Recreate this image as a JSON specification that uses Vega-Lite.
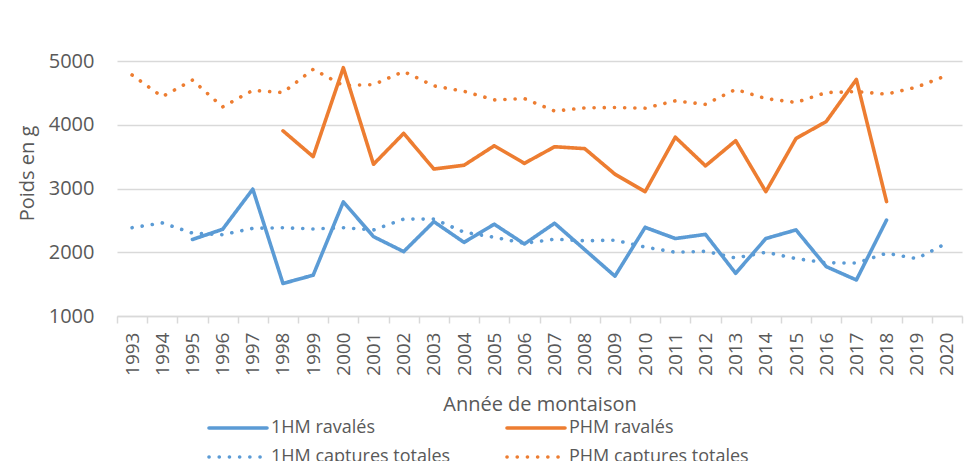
{
  "$schema": "https://vega.github.io/schema/vega-lite/v6.json",
  "width": 845,
  "height": 255,
  "autosize": {"type": "none"},
  "padding": {"left": 117, "top": 61, "right": 17, "bottom": 145},
  "background": "white",
  "config": {
    "view": {"stroke": null},
    "font": "Open Sans"
  },
  "datasets": {
    "raw": [
      {"s": "1HM ravalés", "y": "1995", "v": 2200},
      {"s": "1HM ravalés", "y": "1996", "v": 2360},
      {"s": "1HM ravalés", "y": "1997", "v": 2990},
      {"s": "1HM ravalés", "y": "1998", "v": 1510},
      {"s": "1HM ravalés", "y": "1999", "v": 1640},
      {"s": "1HM ravalés", "y": "2000", "v": 2790},
      {"s": "1HM ravalés", "y": "2001", "v": 2245},
      {"s": "1HM ravalés", "y": "2002", "v": 2010},
      {"s": "1HM ravalés", "y": "2003", "v": 2480},
      {"s": "1HM ravalés", "y": "2004", "v": 2155},
      {"s": "1HM ravalés", "y": "2005", "v": 2440},
      {"s": "1HM ravalés", "y": "2006", "v": 2130},
      {"s": "1HM ravalés", "y": "2007", "v": 2455},
      {"s": "1HM ravalés", "y": "2008", "v": 2040},
      {"s": "1HM ravalés", "y": "2009", "v": 1625},
      {"s": "1HM ravalés", "y": "2010", "v": 2390},
      {"s": "1HM ravalés", "y": "2011", "v": 2215},
      {"s": "1HM ravalés", "y": "2012", "v": 2280},
      {"s": "1HM ravalés", "y": "2013", "v": 1670},
      {"s": "1HM ravalés", "y": "2014", "v": 2215},
      {"s": "1HM ravalés", "y": "2015", "v": 2350},
      {"s": "1HM ravalés", "y": "2016", "v": 1775},
      {"s": "1HM ravalés", "y": "2017", "v": 1565},
      {"s": "1HM ravalés", "y": "2018", "v": 2505},
      {"s": "PHM ravalés", "y": "1998", "v": 3905},
      {"s": "PHM ravalés", "y": "1999", "v": 3500},
      {"s": "PHM ravalés", "y": "2000", "v": 4895},
      {"s": "PHM ravalés", "y": "2001", "v": 3380},
      {"s": "PHM ravalés", "y": "2002", "v": 3865},
      {"s": "PHM ravalés", "y": "2003", "v": 3305},
      {"s": "PHM ravalés", "y": "2004", "v": 3365},
      {"s": "PHM ravalés", "y": "2005", "v": 3670},
      {"s": "PHM ravalés", "y": "2006", "v": 3395},
      {"s": "PHM ravalés", "y": "2007", "v": 3655},
      {"s": "PHM ravalés", "y": "2008", "v": 3625},
      {"s": "PHM ravalés", "y": "2009", "v": 3225},
      {"s": "PHM ravalés", "y": "2010", "v": 2950},
      {"s": "PHM ravalés", "y": "2011", "v": 3805},
      {"s": "PHM ravalés", "y": "2012", "v": 3355},
      {"s": "PHM ravalés", "y": "2013", "v": 3750},
      {"s": "PHM ravalés", "y": "2014", "v": 2950},
      {"s": "PHM ravalés", "y": "2015", "v": 3785},
      {"s": "PHM ravalés", "y": "2016", "v": 4050},
      {"s": "PHM ravalés", "y": "2017", "v": 4710},
      {"s": "PHM ravalés", "y": "2018", "v": 2795},
      {"s": "1HM captures totales", "y": "1993", "v": 2385},
      {"s": "1HM captures totales", "y": "1994", "v": 2460},
      {"s": "1HM captures totales", "y": "1995", "v": 2300},
      {"s": "1HM captures totales", "y": "1996", "v": 2275},
      {"s": "1HM captures totales", "y": "1997", "v": 2375},
      {"s": "1HM captures totales", "y": "1998", "v": 2385},
      {"s": "1HM captures totales", "y": "1999", "v": 2365},
      {"s": "1HM captures totales", "y": "2000", "v": 2385},
      {"s": "1HM captures totales", "y": "2001", "v": 2350},
      {"s": "1HM captures totales", "y": "2002", "v": 2520},
      {"s": "1HM captures totales", "y": "2003", "v": 2520},
      {"s": "1HM captures totales", "y": "2004", "v": 2315},
      {"s": "1HM captures totales", "y": "2005", "v": 2235},
      {"s": "1HM captures totales", "y": "2006", "v": 2140},
      {"s": "1HM captures totales", "y": "2007", "v": 2205},
      {"s": "1HM captures totales", "y": "2008", "v": 2180},
      {"s": "1HM captures totales", "y": "2009", "v": 2190},
      {"s": "1HM captures totales", "y": "2010", "v": 2080},
      {"s": "1HM captures totales", "y": "2011", "v": 2000},
      {"s": "1HM captures totales", "y": "2012", "v": 2015},
      {"s": "1HM captures totales", "y": "2013", "v": 1910},
      {"s": "1HM captures totales", "y": "2014", "v": 2000},
      {"s": "1HM captures totales", "y": "2015", "v": 1900},
      {"s": "1HM captures totales", "y": "2016", "v": 1835},
      {"s": "1HM captures totales", "y": "2017", "v": 1830},
      {"s": "1HM captures totales", "y": "2018", "v": 1985},
      {"s": "1HM captures totales", "y": "2019", "v": 1900},
      {"s": "1HM captures totales", "y": "2020", "v": 2145},
      {"s": "PHM captures totales", "y": "1993", "v": 4780},
      {"s": "PHM captures totales", "y": "1994", "v": 4440},
      {"s": "PHM captures totales", "y": "1995", "v": 4700},
      {"s": "PHM captures totales", "y": "1996", "v": 4280},
      {"s": "PHM captures totales", "y": "1997", "v": 4540},
      {"s": "PHM captures totales", "y": "1998", "v": 4505},
      {"s": "PHM captures totales", "y": "1999", "v": 4870},
      {"s": "PHM captures totales", "y": "2000", "v": 4615},
      {"s": "PHM captures totales", "y": "2001", "v": 4630},
      {"s": "PHM captures totales", "y": "2002", "v": 4835},
      {"s": "PHM captures totales", "y": "2003", "v": 4610},
      {"s": "PHM captures totales", "y": "2004", "v": 4525},
      {"s": "PHM captures totales", "y": "2005", "v": 4390},
      {"s": "PHM captures totales", "y": "2006", "v": 4410},
      {"s": "PHM captures totales", "y": "2007", "v": 4215},
      {"s": "PHM captures totales", "y": "2008", "v": 4265},
      {"s": "PHM captures totales", "y": "2009", "v": 4270},
      {"s": "PHM captures totales", "y": "2010", "v": 4260},
      {"s": "PHM captures totales", "y": "2011", "v": 4375},
      {"s": "PHM captures totales", "y": "2012", "v": 4320},
      {"s": "PHM captures totales", "y": "2013", "v": 4555},
      {"s": "PHM captures totales", "y": "2014", "v": 4410},
      {"s": "PHM captures totales", "y": "2015", "v": 4350},
      {"s": "PHM captures totales", "y": "2016", "v": 4505},
      {"s": "PHM captures totales", "y": "2017", "v": 4520},
      {"s": "PHM captures totales", "y": "2018", "v": 4480},
      {"s": "PHM captures totales", "y": "2019", "v": 4590},
      {"s": "PHM captures totales", "y": "2020", "v": 4775}
    ]
  },
  "data": {"name": "raw"},
  "mark": {"type": "line", "strokeCap": "round", "strokeJoin": "round"},
  "encoding": {
    "x": {
      "field": "y",
      "type": "ordinal",
      "scale": {"type": "band", "paddingInner": 0, "paddingOuter": 0, "domain": ["1993","1994","1995","1996","1997","1998","1999","2000","2001","2002","2003","2004","2005","2006","2007","2008","2009","2010","2011","2012","2013","2014","2015","2016","2017","2018","2019","2020"]},
      "axis": {
        "title": "Année de montaison",
        "titleFont": "Open Sans",
        "titleFontSize": 20,
        "titleFontWeight": "normal",
        "titleColor": "#595959",
        "titleBaseline": "alphabetic",
        "titleY": 94,
        "labelAngle": -90,
        "labelAlign": "right",
        "labelBaseline": "middle",
        "labelFont": "Open Sans",
        "labelFontSize": 19,
        "labelColor": "#595959",
        "labelPadding": 9,
        "tickBand": "extent",
        "tickSize": 7,
        "tickColor": "#d9d9d9",
        "tickWidth": 1.5,
        "domainColor": "#d9d9d9",
        "domainWidth": 1.5,
        "grid": false
      }
    },
    "y": {
      "field": "v",
      "type": "quantitative",
      "scale": {"domain": [1000, 5000], "nice": false, "zero": false},
      "axis": {
        "values": [1000, 2000, 3000, 4000, 5000],
        "format": "d",
        "title": "Poids en g",
        "titleFont": "Open Sans",
        "titleFontSize": 20,
        "titleFontWeight": "normal",
        "titleColor": "#595959",
        "titleAngle": -90,
        "titleAlign": "center",
        "titleBaseline": "middle",
        "titleX": -90,
        "titleY": 112,
        "labelFont": "Open Sans",
        "labelFontSize": 20,
        "labelColor": "#595959",
        "labelPadding": 23,
        "ticks": false,
        "domain": false,
        "grid": true,
        "gridColor": "#d9d9d9",
        "gridWidth": 1.5
      }
    },
    "color": {
      "field": "s",
      "type": "nominal",
      "sort": ["1HM ravalés", "PHM ravalés", "1HM captures totales", "PHM captures totales"],
      "scale": {
        "domain": ["1HM ravalés", "PHM ravalés", "1HM captures totales", "PHM captures totales"],
        "range": ["#5B9BD5", "#ED7D31", "#5B9BD5", "#ED7D31"]
      },
      "legend": {
        "title": null,
        "orient": "none",
        "legendX": 83,
        "legendY": 358,
        "direction": "horizontal",
        "columns": 2,
        "columnPadding": 47,
        "rowPadding": 11,
        "symbolType": "M0,0H29",
        "symbolSize": 16,
        "labelFont": "Open Sans",
        "labelFontSize": 18,
        "labelColor": "#595959",
        "labelOffset": 53,
        "labelLimit": 400,
        "encode": {
          "symbols": {"update": {"strokeCap": {"value": "round"}}}
        }
      }
    },
    "strokeDash": {
      "field": "s",
      "type": "nominal",
      "sort": ["1HM ravalés", "PHM ravalés", "1HM captures totales", "PHM captures totales"],
      "scale": {
        "domain": ["1HM ravalés", "PHM ravalés", "1HM captures totales", "PHM captures totales"],
        "range": [[1, 0], [1, 0], [0.1, 10.1], [0.1, 10.1]]
      }
    },
    "strokeWidth": {
      "field": "s",
      "type": "nominal",
      "sort": ["1HM ravalés", "PHM ravalés", "1HM captures totales", "PHM captures totales"],
      "scale": {
        "domain": ["1HM ravalés", "PHM ravalés", "1HM captures totales", "PHM captures totales"],
        "range": [3.6, 3.6, 4.8, 4.8]
      }
    },
    "order": {"field": "y"}
  }
}
